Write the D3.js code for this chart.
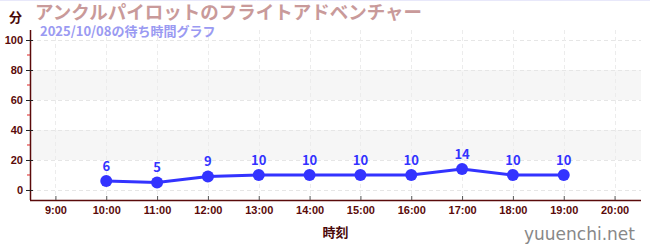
<!DOCTYPE html>
<html>
<head>
<meta charset="utf-8">
<script src="https://cdn.jsdelivr.net/npm/d3@7"></script>
<style>
  body { margin: 0; background: #fff; }
  svg { display: block; font-family: "Noto Sans CJK JP", "Noto Sans", sans-serif; }
</style>
</head>
<body>
<div id="chart"></div>
<script>
const TITLE = 'アンクルパイロットのフライトアドベンチャー';
const SUBTITLE = '2025/10/08の待ち時間グラフ';
const hours = [10, 11, 12, 13, 14, 15, 16, 17, 18, 19];
const waits = [6, 5, 9, 10, 10, 10, 10, 14, 10, 10];
const xTicks = [9, 10, 11, 12, 13, 14, 15, 16, 17, 18, 19, 20];
const yTicks = [0, 20, 40, 60, 80, 100];
const yMinor = [10, 30, 50, 70, 90];
const bands = [[20, 40], [60, 80]];

const W = 650, H = 250;
const margin = { top: 30, right: 9, bottom: 50, left: 30 };
const width = W - margin.left - margin.right;
const height = H - margin.top - margin.bottom;

const root = d3.select('#chart').append('svg').attr('width', W).attr('height', H);

root.append('line').attr('x1', 0).attr('x2', W).attr('y1', 0.5).attr('y2', 0.5)
    .attr('stroke', '#e8e8fa');

const svg = root.append('g').attr('transform', `translate(${margin.left},${margin.top})`);

const x = d3.scaleLinear().domain([8.5, 20.52]).range([0, width]);
const y = d3.scaleLinear().domain([-6.67, 106.67]).range([height, 0]);

// bands
svg.selectAll('.band').data(bands).enter().append('rect')
    .attr('x', 0).attr('width', width)
    .attr('y', d => y(d[1])).attr('height', d => y(d[0]) - y(d[1]))
    .attr('fill', '#f6f6f6');

// grid
svg.append('g').selectAll('line').data(yTicks).enter().append('line')
    .attr('x1', 0).attr('x2', width)
    .attr('y1', d => Math.round(y(d)) + 0.5).attr('y2', d => Math.round(y(d)) + 0.5)
    .attr('stroke', '#e6e6e6').attr('stroke-dasharray', '4,3');
svg.append('g').selectAll('line').data(xTicks).enter().append('line')
    .attr('y1', 0).attr('y2', height)
    .attr('x1', d => Math.round(x(d)) + 0.5).attr('x2', d => Math.round(x(d)) + 0.5)
    .attr('stroke', '#ececec').attr('stroke-dasharray', '4,3');

// line
const line = d3.line().x((d, i) => x(hours[i])).y(d => y(d));
svg.append('path').datum(waits)
    .attr('fill', 'none').attr('stroke', '#3333ff').attr('stroke-width', 3)
    .attr('d', line);

svg.selectAll('.dot').data(waits).enter().append('circle')
    .attr('cx', (d, i) => x(hours[i])).attr('cy', d => y(d)).attr('r', 6)
    .attr('fill', '#3333ff');

svg.selectAll('.lbl').data(waits).enter().append('text')
    .attr('x', (d, i) => x(hours[i])).attr('y', d => y(d) - 10)
    .attr('text-anchor', 'middle').attr('fill', '#3333ff')
    .attr('font-size', 13).attr('font-weight', 'bold')
    .text(d => d);

// x axis
const xAxis = svg.append('g').attr('transform', `translate(0,${height})`)
    .call(d3.axisBottom(x).tickValues(xTicks).tickSize(-4).tickPadding(6).tickFormat(d => `${d}:00`));
xAxis.select('.domain').attr('stroke', '#5a0a0a').attr('stroke-width', 1.5).attr('d', `M0,0.5H${width}`);
xAxis.selectAll('.tick line').attr('stroke', '#555');
xAxis.selectAll('text').attr('fill', '#5a0a0a').attr('font-size', 11).attr('font-weight', 'bold')
    .attr('font-family', '"Liberation Sans", sans-serif');

// y axis
const yAxis = svg.append('g')
    .call(d3.axisLeft(y).tickValues(yTicks).tickSize(4).tickPadding(3));
yAxis.select('.domain').attr('stroke', '#5a0a0a').attr('stroke-width', 1.5).attr('d', `M0.5,0V${height}`);
yAxis.selectAll('.tick line').attr('stroke', '#222').attr('x1', 3).attr('x2', -4);
yAxis.selectAll('text').attr('fill', '#5a0a0a').attr('font-size', 11).attr('font-weight', 'bold')
    .attr('font-family', '"Liberation Sans", sans-serif');
svg.append('g').selectAll('line').data(yMinor).enter().append('line')
    .attr('x1', -3).attr('x2', 0)
    .attr('y1', d => y(d)).attr('y2', d => y(d))
    .attr('stroke', '#dd2222');

// texts
root.append('text').attr('x', 9).attr('y', 22).attr('font-size', 13).attr('font-weight', 'bold')
    .attr('fill', '#4a0a0a').text('分');
root.append('text').attr('x', 35).attr('y', 19).attr('font-size', 18.5).attr('font-weight', 'bold')
    .attr('fill', '#c99a9a').text(TITLE);
root.append('text').attr('x', 40).attr('y', 36).attr('font-size', 13).attr('font-weight', 'bold')
    .attr('fill', '#9a9af2').text(SUBTITLE);
root.append('text').attr('x', margin.left + width / 2).attr('y', 237).attr('text-anchor', 'middle')
    .attr('font-size', 13).attr('font-weight', 'bold').attr('fill', '#4a0a0a').text('時刻');
root.append('text').attr('x', 635).attr('y', 240).attr('text-anchor', 'end')
    .attr('font-size', 17).attr('fill', '#888').attr('font-family', '"DejaVu Sans", sans-serif')
    .text('yuuenchi.net');
</script>
</body>
</html>
